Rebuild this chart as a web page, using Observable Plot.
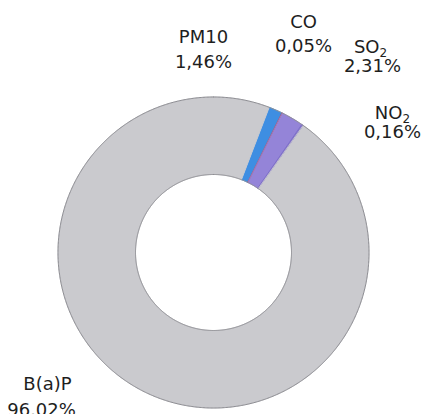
<!DOCTYPE html>
<html>
<head>
<meta charset="utf-8">
<script src="https://cdn.jsdelivr.net/npm/d3@7"></script>
<script src="https://cdn.jsdelivr.net/npm/@observablehq/plot@0.6"></script>
<style>
  html, body { margin: 0; padding: 0; background: #fff; }
  #chart svg { display: block; }
</style>
</head>
<body>
<div id="chart"></div>
<script>
// Pollutant shares (%), listed clockwise around the ring
const pollutants = ["PM10", "CO", "SO₂", "NO₂", "B(a)P"];
const shares = [1.46, 0.05, 2.31, 0.16, 96.02];
const sliceColors = ["#3e8ee2", "#c2505e", "#9484d8", "#7b6cc6", "#cacace"];

// Layout (pixels): ring geometry and label anchors
const W = 423, H = 414;
const cx = 213, cy = 252, outerPx = 155.5, innerPx = 78;
const startDeg = 21;
const labelNamePx = {"PM10": [203, 37], "CO": [303, 22], "SO₂": [370, 47], "NO₂": [392, 113], "B(a)P": [47, 384]};
const labelValuePx = {"PM10": [203, 62], "CO": [303, 46], "SO₂": [372, 66], "NO₂": [392, 132], "B(a)P": [41, 410]};

// Work in units of the outer radius, y pointing up
const inner = innerPx / outerPx;
const ux = px => (px - cx) / outerPx;
const uy = py => (cy - py) / outerPx;

const table = pollutants.map((name, i) => ({name, share: shares[i]}));
const arcs = d3.pie().sort(null).value(d => d.share)
  .startAngle(startDeg * Math.PI / 180)
  .endAngle(startDeg * Math.PI / 180 + 2 * Math.PI)(table);

// Each slice becomes a closed ring-segment polygon
const step = 0.4 * Math.PI / 180;
const points = [];
for (const a of arcs) {
  const n = Math.max(2, Math.ceil((a.endAngle - a.startAngle) / step) + 1);
  const angles = d3.range(n).map(k => a.startAngle + (a.endAngle - a.startAngle) * k / (n - 1));
  for (const t of angles) points.push({key: a.data.name, x: Math.sin(t), y: Math.cos(t)});
  for (const t of angles.slice().reverse()) points.push({key: a.data.name, x: inner * Math.sin(t), y: inner * Math.cos(t)});
}

// Outline circles at the ring's outer and inner edges
const circle = [];
for (const [ring, rad] of [["outer", 1], ["inner", inner]]) {
  for (let k = 0; k <= 720; k++) {
    const t = k / 720 * 2 * Math.PI;
    circle.push({ring, x: rad * Math.sin(t), y: rad * Math.cos(t)});
  }
}

const fmt = v => v.toFixed(2).replace(".", ",") + "%";
const labels = table.map(d => ({
  name: d.name,
  value: fmt(d.share),
  nx: ux(labelNamePx[d.name][0]), ny: uy(labelNamePx[d.name][1]),
  vx: ux(labelValuePx[d.name][0]), vy: uy(labelValuePx[d.name][1])
}));

const chart = Plot.plot({
  width: W,
  height: H,
  margin: 0,
  style: {background: "#fff", overflow: "visible"},
  x: {domain: [ux(0), ux(W)], axis: null},
  y: {domain: [uy(H), uy(0)], axis: null},
  color: {domain: pollutants, range: sliceColors},
  marks: [
    Plot.line(points, {x: "x", y: "y", z: "key", fill: "key", stroke: "key", strokeWidth: 0.9, curve: "linear-closed"}),
    Plot.line(circle, {x: "x", y: "y", z: "ring", stroke: "#8e8e93", strokeWidth: 1}),
    Plot.text(labels, {x: "nx", y: "ny", text: "name", fontSize: 18, fontFamily: "DejaVu Sans", fill: "#1e1e1e"}),
    Plot.text(labels, {x: "vx", y: "vy", text: "value", fontSize: 18, fontFamily: "DejaVu Sans", fill: "#1e1e1e"})
  ]
});

// Render the chemical formula subscripts as lowered, smaller digits
for (const t of chart.querySelectorAll("text")) {
  const s = t.textContent;
  if (!s.includes("₂")) continue;
  const [base] = s.split("₂");
  t.textContent = base;
  const sub = document.createElementNS("http://www.w3.org/2000/svg", "tspan");
  sub.setAttribute("dy", "0.3em");
  sub.setAttribute("font-size", "12");
  sub.textContent = "2";
  t.appendChild(sub);
}

document.getElementById("chart").appendChild(chart);
</script>
</body>
</html>
